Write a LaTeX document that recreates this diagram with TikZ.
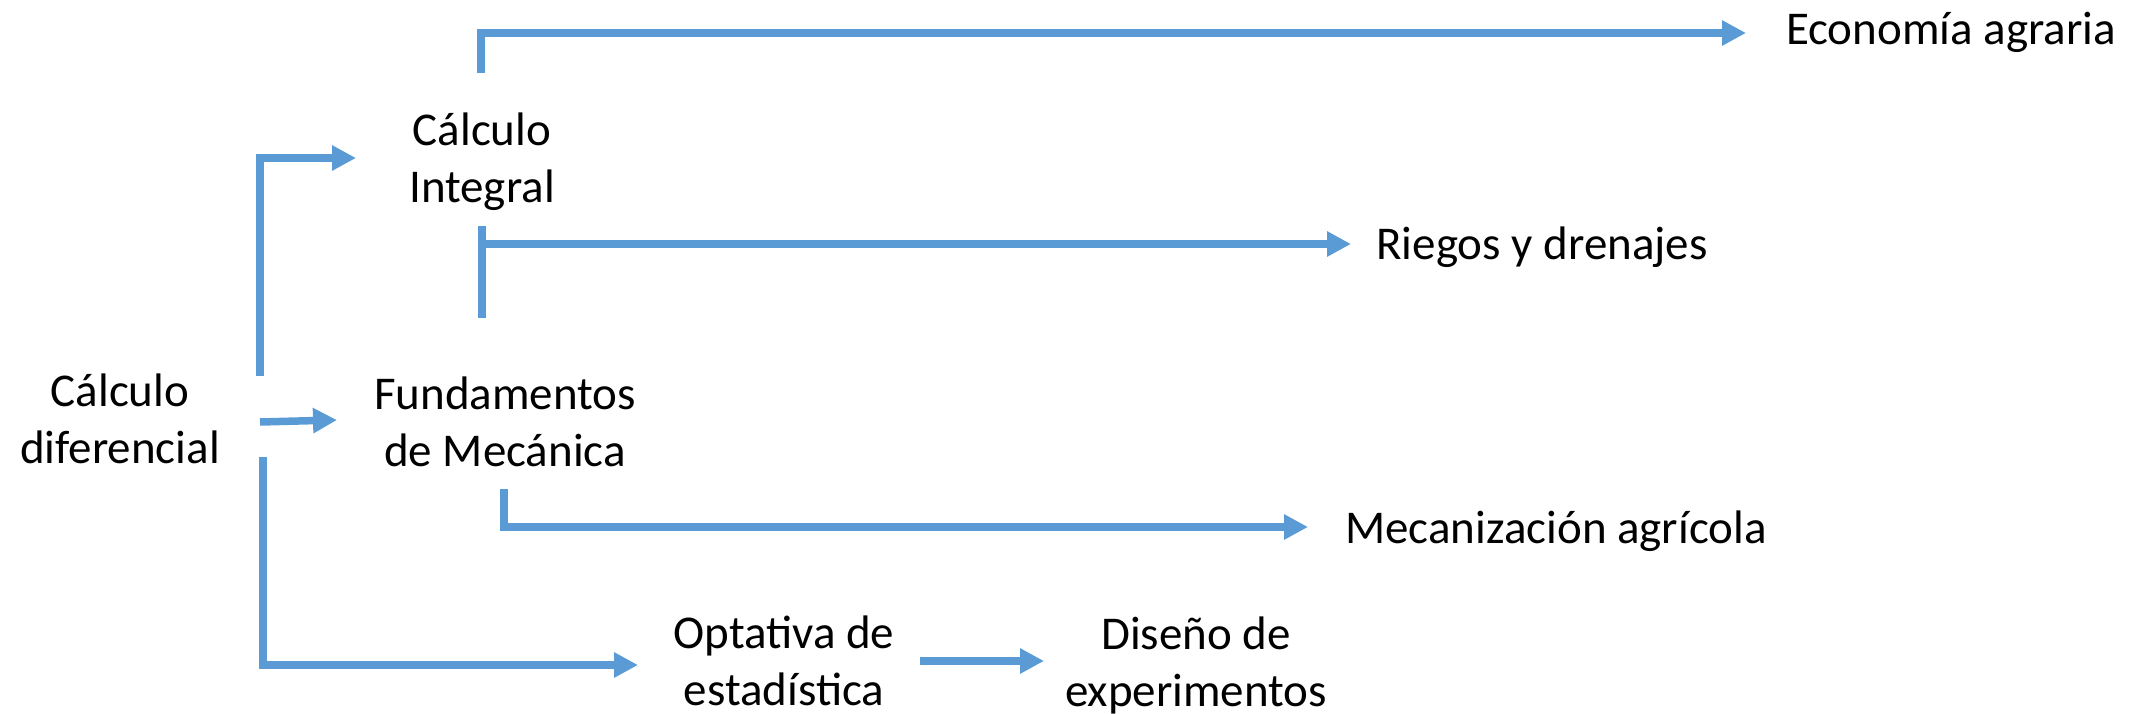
\documentclass[tikz,border=0pt]{standalone}
\usepackage{fontspec}
\setmainfont{Carlito}
\usetikzlibrary{arrows.meta}
\definecolor{lineblue}{HTML}{5B9BD5}
\begin{document}
\begin{tikzpicture}[x=1pt,y=-1pt,
  lbl/.style={inner sep=0pt, align=center, font=\fontsize{47}{57}\selectfont},
  conn/.style={draw=lineblue, line width=7.5pt, line cap=butt, line join=miter},
  arr/.style={conn, -{Triangle[length=24pt,width=24pt]}, lineblue}]
\useasboundingbox (0,0) rectangle (2141,714);
\node[lbl] (cd) at (120,419) {Cálculo\\diferencial};
\node[lbl] (ci) at (482,162) {Cálculo\\Integral};
\node[lbl] (fm) at (505,422) {Fundamentos\\de Mecánica};
\node[lbl] (op) at (784,661) {Optativa de\\estadística};
\node[lbl] (dx) at (1196,665) {Diseño de\\experimentos};
\node[lbl] (ea) at (1951,32) {Economía agraria};
\node[lbl] (ri) at (1542,247) {Riegos y drenajes};
\node[lbl] (mz) at (1556,531) {Mecanización agrícola};
% Calculo diferencial
\draw[arr] ([shift={(140,-43)}]cd.center) |- ([shift={(-126,-4)}]ci.center);
\draw[arr] ([shift={(140,3)}]cd.center) -- ([shift={(-168,-2)}]fm.center);
\draw[arr] ([shift={(143,38)}]cd.center) |- ([shift={(-146,4)}]op.center);
% Calculo integral
\draw[arr] ([shift={(-1,-89)}]ci.center) |- ([shift={(-205,1)}]ea.center);
\draw[conn] ([shift={(0,64)}]ci.center) -- ([shift={(0,156)}]ci.center);
\draw[arr] ([shift={(0,82)}]ci.center) -- ([shift={(-191,-3)}]ri.center);
% Fundamentos
\draw[arr] ([shift={(-1,67)}]fm.center) |- ([shift={(-248,-4)}]mz.center);
% Optativa
\draw[arr] ([shift={(136,0)}]op.center) -- ([shift={(-152,-4)}]dx.center);
\end{tikzpicture}
\end{document}
